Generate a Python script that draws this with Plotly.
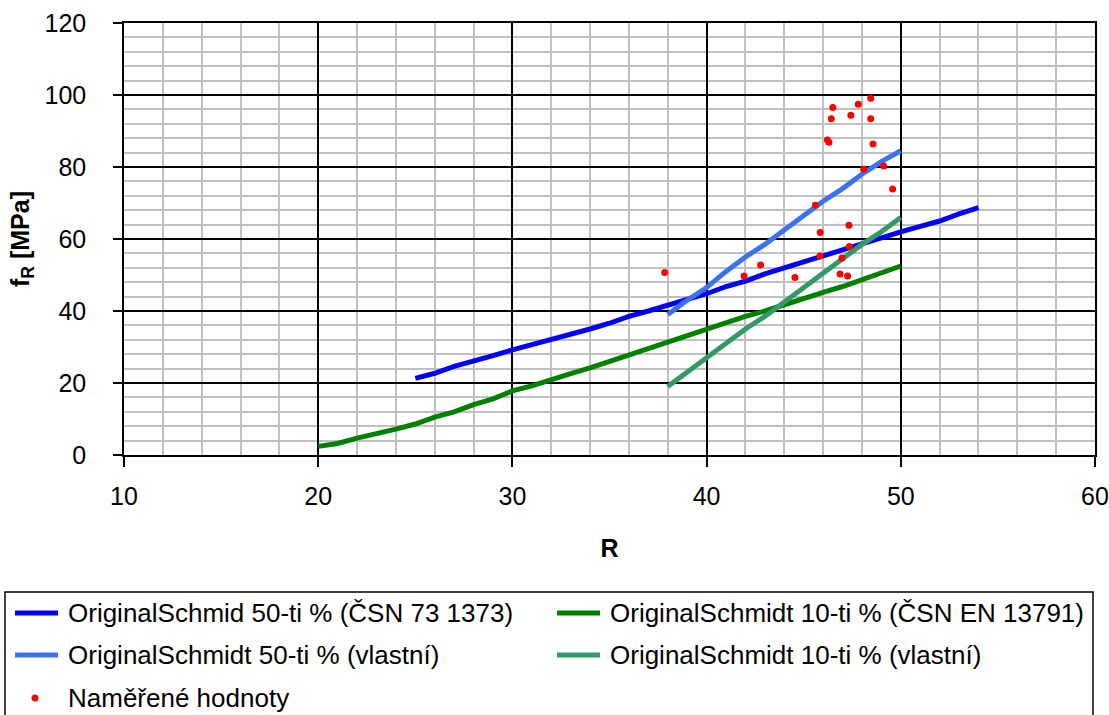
import plotly.graph_objects as go

# ---- data ----
r_csn50 = list(range(25, 55))
f_csn50 = [21.3, 22.7, 24.6, 26.0, 27.6, 29.2, 30.6, 32.0, 33.5, 35.0,
           36.6, 38.5, 40.0, 41.5, 43.0, 44.8, 46.8, 48.3, 50.3, 52.0,
           53.5, 55.2, 56.8, 58.5, 60.3, 62.0, 63.5, 65.0, 67.0, 68.7]

r_en10 = list(range(20, 51))
f_en10 = [2.4, 3.2, 4.7, 5.8, 7.2, 8.6, 10.5, 12.0, 14.0, 15.6,
          17.8, 19.2, 21.0, 22.6, 24.2, 26.0, 27.8, 29.8, 31.5, 33.4,
          35.0, 37.0, 38.5, 40.0, 41.8, 43.5, 45.2, 46.8, 48.8, 50.5, 52.5]

r_own = list(range(38, 51))
f_own50 = [39.0, 43.0, 46.5, 51.0, 55.0, 58.5, 62.5, 66.5, 70.5, 74.0, 78.0, 81.5, 84.5]
f_own10 = [19.0, 23.0, 27.0, 31.0, 35.0, 38.5, 42.5, 46.5, 50.5, 54.5, 58.5, 62.0, 66.0]

r_meas = [37.84, 46.50, 46.42, 48.45, 47.81, 47.43, 48.45, 46.22, 46.30, 48.57,
          48.09, 49.12, 49.58, 45.60, 47.33, 45.85, 47.35, 45.84, 46.97, 42.78,
          41.93, 44.55, 46.87, 47.26]
f_meas = [50.7, 96.5, 93.4, 99.1, 97.4, 94.4, 93.4, 87.5, 86.9, 86.4,
          79.4, 80.3, 73.9, 69.4, 63.8, 61.8, 57.9, 55.3, 54.7, 52.8,
          49.7, 49.3, 50.3, 49.7]

names = ["OriginalSchmid 50-ti % (ČSN 73 1373)",
         "OriginalSchmidt 10-ti % (ČSN EN 13791)",
         "OriginalSchmidt 50-ti % (vlastní)",
         "OriginalSchmidt 10-ti % (vlastní)",
         "Naměřené hodnoty"]
colors = ["#0000FF", "#008000", "#3A72F5", "#339966", "#FF0000"]

x_ticks = [10, 20, 30, 40, 50, 60]
y_ticks = [0, 20, 40, 60, 80, 100, 120]

FONT = "Liberation Sans, Arial, sans-serif"

fig = go.Figure()
fig.add_trace(go.Scatter(x=r_csn50, y=f_csn50, mode="lines", name=names[0],
                         line=dict(color=colors[0], width=5), showlegend=False))
fig.add_trace(go.Scatter(x=r_en10, y=f_en10, mode="lines", name=names[1],
                         line=dict(color=colors[1], width=5), showlegend=False))
fig.add_trace(go.Scatter(x=r_own, y=f_own50, mode="lines", name=names[2],
                         line=dict(color=colors[2], width=5), showlegend=False))
fig.add_trace(go.Scatter(x=r_own, y=f_own10, mode="lines", name=names[3],
                         line=dict(color=colors[3], width=5), showlegend=False))
fig.add_trace(go.Scatter(x=r_meas, y=f_meas, mode="markers", name=names[4],
                         marker=dict(color=colors[4], size=7), showlegend=False))

# ---- plot geometry (pixels) ----
W, H = 1109, 715
L, R, T, B = 124, 14, 23, 260
PW, PH = W - L - R, H - T - B

def px(x):
    return (x - L) / PW

def py(y):
    return (H - B - y) / PH

# ---- manual legend ----
shapes = [dict(type="rect", xref="paper", yref="paper",
               x0=px(5), x1=px(1093), y0=py(592), y1=py(722),
               line=dict(color="black", width=1.5), fillcolor="white", layer="above")]
annotations = []
items = [(0, 15, 613), (1, 557, 613), (2, 15, 655), (3, 557, 655)]
for idx, x0, y0 in items:
    shapes.append(dict(type="line", xref="paper", yref="paper",
                       x0=px(x0), x1=px(x0 + 43), y0=py(y0), y1=py(y0),
                       line=dict(color=colors[idx], width=5), layer="above"))
    annotations.append(dict(xref="paper", yref="paper", x=px(x0 + 51), y=py(y0),
                            text=names[idx], showarrow=False, xanchor="left",
                            yanchor="middle", font=dict(size=26, color="black", family=FONT)))
shapes.append(dict(type="circle", xref="paper", yref="paper",
                   x0=px(31.5), x1=px(38.5), y0=py(701.5), y1=py(694.5),
                   fillcolor=colors[4], line=dict(width=0), layer="above"))
annotations.append(dict(xref="paper", yref="paper", x=px(66), y=py(698),
                        text=names[4], showarrow=False, xanchor="left",
                        yanchor="middle", font=dict(size=26, color="black", family=FONT)))

fig.update_layout(
    width=W, height=H,
    margin=dict(l=L, r=R, t=T, b=B, pad=0, autoexpand=False),
    paper_bgcolor="white", plot_bgcolor="white",
    font=dict(family=FONT, size=25, color="black"),
    shapes=shapes, annotations=annotations,
    showlegend=False,
)
fig.update_xaxes(
    range=[10, 60], tickvals=x_ticks, ticktext=[str(v) for v in x_ticks],
    automargin=False,
    showgrid=True, gridcolor="black", gridwidth=1.5,
    minor=dict(dtick=2, tick0=10, showgrid=True, gridcolor="#C0C0C0", gridwidth=2, ticks=""),
    showline=True, linecolor="black", linewidth=1.5, mirror=True,
    ticks="outside", ticklen=10, tickwidth=1.5, tickcolor="black",
    ticklabelstandoff=8, tickfont=dict(size=25),
    zeroline=False,
    title=dict(text="<b>R</b>", font=dict(size=25), standoff=31),
)
fig.update_yaxes(
    range=[0, 120], tickvals=y_ticks, ticktext=[str(v) for v in y_ticks],
    automargin=False,
    showgrid=True, gridcolor="black", gridwidth=1.5,
    minor=dict(dtick=4, tick0=0, showgrid=True, gridcolor="#C0C0C0", gridwidth=2, ticks=""),
    showline=True, linecolor="black", linewidth=1.5, mirror=True,
    ticks="outside", ticklen=9, tickwidth=1.5, tickcolor="black",
    ticklabelstandoff=22, tickfont=dict(size=25),
    zeroline=False,
    title=dict(text="<b>f<sub>R</sub> [MPa]</b>", font=dict(size=25), standoff=8),
)

fig.write_html("out.html")
